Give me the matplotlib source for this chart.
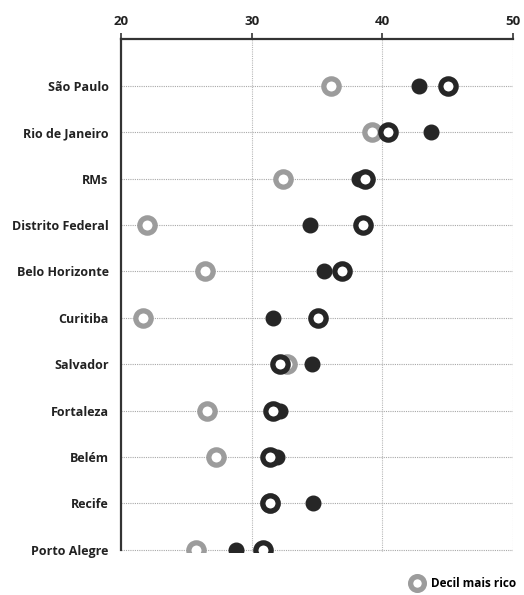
import numpy as np
import matplotlib.pyplot as plt

plt.rcParams['font.family'] = ['Open Sans', 'DejaVu Sans']

cidades = ['São Paulo', 'Rio de Janeiro', 'RMs', 'Distrito Federal', 'Belo Horizonte',
           'Curitiba', 'Salvador', 'Fortaleza', 'Belém', 'Recife', 'Porto Alegre']
# anel cinza (decil mais rico), ponto escuro, anel escuro
anel_cinza = [36.1, 39.2, 32.4, 22.0, 26.4, 21.7, 32.7, 26.6, 27.3, 31.4, 25.7]
ponto_escuro = [42.8, 43.7, 38.2, 34.5, 35.5, 31.6, 34.6, 32.2, 31.9, 34.7, 28.8]
anel_escuro = [45.0, 40.4, 38.7, 38.5, 36.9, 35.1, 32.2, 31.6, 31.4, 31.4, 30.9]
ticks_x = [20, 30, 40, 50]

y = np.arange(len(cidades))
cinza = '#9c9c9c'
escuro = '#262626'

fig = plt.figure(figsize=(5.24, 5.95), dpi=100)
ax = fig.add_axes([0.231, 0.072, 0.748, 0.862])

# linhas pontilhadas
for yi in y:
    ax.plot([20, 50], [yi, yi], color='#a8a8a8', lw=0.8, ls=(0, (1, 1)), zorder=1)
for xv in ticks_x[1:]:
    ax.axvline(xv, color='#b8b8b8', lw=0.8, ls=(0, (1, 1)), zorder=1)

ax.plot(anel_cinza, y, 'o', ms=11, mfc='white', mec=cinza, mew=3.8, zorder=3,
        label='Decil mais rico')
ax.plot(ponto_escuro, y, 'o', ms=10.5, mfc=escuro, mec=escuro, zorder=4)
ax.plot(anel_escuro, y, 'o', ms=11, mfc='white', mec=escuro, mew=3.8, zorder=5)

ax.set_xlim(20, 50)
ax.set_ylim(10.05, -1)
ax.xaxis.tick_top()
ax.set_xticks(ticks_x)
ax.set_xticklabels([str(t) for t in ticks_x], fontsize=9.5, fontweight='bold', color='#222222')
ax.set_yticks(y)
ax.set_yticklabels(cidades, fontsize=9, fontweight='bold', color='#222222')
ax.tick_params(axis='y', length=0, pad=9)
ax.tick_params(axis='x', direction='out', length=4, width=1.2, color='#333333', pad=4)

for s in ['right', 'bottom']:
    ax.spines[s].set_visible(False)
ax.spines['top'].set_linewidth(1.6)
ax.spines['left'].set_linewidth(1.6)
ax.spines['top'].set_color('#333333')
ax.spines['left'].set_color('#333333')
ax.spines['left'].set_bounds(10, -1)

fig.legend(handles=[ax.lines[-3]], labels=['Decil mais rico'], loc='lower right',
           bbox_to_anchor=(1.005, -0.01), frameon=False,
           prop={'weight': 'bold', 'size': 8.5}, handletextpad=0.2, markerscale=0.9)

fig.savefig('out.png', dpi=100)
